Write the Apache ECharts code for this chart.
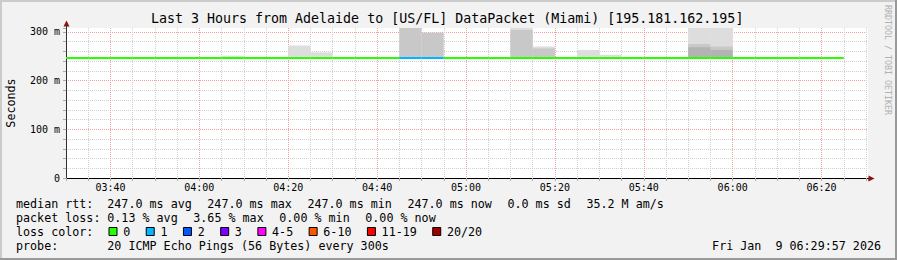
<!DOCTYPE html>
<html><head><meta charset="utf-8">
<script src="https://cdn.jsdelivr.net/npm/echarts@6/dist/echarts.min.js"></script>
<style>html,body{margin:0;padding:0;background:#f2f2f2}#c{width:897px;height:260px}</style>
</head><body><div id="c"></div>
<script>
// ---------------- data ----------------
const stepTimes = ["03:30","03:35","03:40","03:45","03:50","03:55","04:00","04:05","04:10","04:15",
  "04:20","04:25","04:30","04:35","04:40","04:45","04:50","04:55","05:00","05:05",
  "05:10","05:15","05:20","05:25","05:30","05:35","05:40","05:45","05:50","05:55",
  "06:00","06:05","06:10","06:15","06:20"];
const medianRtt = [247,247,247,247,247,247,247,247,247,247,
  247,247,247,247,247,247,247,247,247,247,
  247,247,247,247,247,247,247,247,247,247,
  247,247,247,247,247];
const lossPings = [0,0,0,0,0,0,0,0,0,0,
  0,0,0,0,0,1,1,0,0,0,
  0,0,0,0,0,0,0,0,0,0,
  0,0,0,0,0];
const smokeOuter = [null,null,null,null,null,null,null,251,null,null,
  272,258,null,null,null,null,null,null,null,null,
  312,270,null,263,253,null,null,null,312,312,
  null,null,null,null,null];
const smokeMid = [null,null,null,null,null,null,null,null,null,null,
  null,null,null,null,null,312,298.5,null,null,null,
  304,266,null,null,null,null,null,null,275,270,
  null,null,null,null,null];
const smokeInner = [null,null,null,null,null,null,null,null,null,null,
  null,null,null,null,null,null,null,null,null,null,
  null,null,null,null,null,null,null,null,268.5,263,
  null,null,null,null,null];
const xTickLabels = ["03:40","04:00","04:20","04:40","05:00","05:20","05:40","06:00","06:20"];
const yTickLabels = ["0","100 m","200 m","300 m"];
const lossBuckets = ["0","1","2","3","4-5","6-10","11-19","20/20"];
const titleText = "Last 3 Hours from Adelaide to [US/FL] DataPacket (Miami) [195.181.162.195]";
const yAxisTitle = "Seconds";
const watermark = "RRDTOOL / TOBI OETIKER";
const rttLabel = "median rtt:";
const rttStats = ["247.0 ms avg","247.0 ms max","247.0 ms min","247.0 ms now","0.0 ms sd","35.2 M am/s"];
const lossLabel = "packet loss:";
const lossStats = ["0.13 % avg","3.65 % max","0.00 % min","0.00 % now"];
const lossColorLabel = "loss color:";
const probeLabel = "probe:";
const probeText = "20 ICMP Echo Pings (56 Bytes) every 300s";
const dateText = "Fri Jan  9 06:29:57 2026";

// ---------------- styles / layout ----------------
const LOSS_COLORS = ['#26ff00','#00b8ff','#0059ff','#7e00ff','#ff00ff','#ff5500','#ff0000','#a10000'];
const SMOKE_COLORS = ['#dddddd','#c8c8c8','#b3b3b3'];
const MONO = '"DejaVu Sans Mono", "Liberation Mono", monospace';
const MINOR = '#d0d0d0', MAJOR = '#f2a0a0';
const STEP_MIN = 5;
const CW = 7.02, GAP = 15.8;

function toMin(s){ const p = s.split(':'); return (+p[0])*60 + (+p[1]); }
function fmtMin(v){ const h = Math.floor(v/60), m = Math.round(v%60); return String(h).padStart(2,'0')+':'+String(m).padStart(2,'0'); }
function lossBucket(n){ if(n<=3) return n; if(n<=5) return 4; if(n<=10) return 5; if(n<=19) return 6; return 7; }

function layerData(arr){
  const out = [];
  arr.forEach((v,i)=>{ if(v!=null) out.push([toMin(stepTimes[i]), v, medianRtt[i]]); });
  return out;
}
function smokeRender(color){
  return function(params, api){
    const t = api.value(0), top = api.value(1), base = api.value(2);
    const a = api.coord([t, top]), b = api.coord([t + STEP_MIN, base]);
    const cs = params.coordSys;
    const r = echarts.graphic.clipRectByRect(
      {x:a[0], y:a[1], width:b[0]-a[0], height:b[1]-a[1]},
      {x:cs.x, y:cs.y, width:cs.width, height:cs.height});
    return r ? {type:'rect', shape:r, style:{fill:color}} : null;
  };
}
const medianData = stepTimes.map((t,i)=>[toMin(t), medianRtt[i], lossBucket(lossPings[i])]);

// ---------------- graphics (text, frame) ----------------
const g = [];
g.push({type:'rect', shape:{x:0,y:0,width:897,height:2}, style:{fill:'#cbcbcb'}, silent:true});
g.push({type:'rect', shape:{x:0,y:0,width:2,height:260}, style:{fill:'#cbcbcb'}, silent:true});
g.push({type:'rect', shape:{x:0,y:258,width:897,height:2}, style:{fill:'#999999'}, silent:true});
g.push({type:'rect', shape:{x:895,y:0,width:2,height:260}, style:{fill:'#999999'}, silent:true});
function txt(text, x, y, size, opts){
  return Object.assign({type:'text', silent:true, z:10,
    style:{text:text.replace(/  /g,' \u00a0'), x:x, y:y, font: size+'px '+MONO, fill:'#000', align:'left', verticalAlign:'middle'}}, opts||{});
}
g.push(txt(titleText, 447.2, 18.3, 13.3, {style:{text:titleText, x:447.2, y:18.3, font:'13.3px '+MONO, fill:'#000', align:'center', verticalAlign:'middle'}}));
g.push({type:'text', silent:true, x:11, y:103, rotation:Math.PI/2,
  style:{text:yAxisTitle, x:0, y:0, font:'11.7px '+MONO, fill:'#000', align:'center', verticalAlign:'middle'}});
g.push({type:'text', silent:true, x:888, y:60, rotation:-Math.PI/2,
  style:{text:watermark, x:0, y:0, font:'8.3px '+MONO, fill:'#b0b0b0', align:'center', verticalAlign:'middle'}});
// axis arrows
g.push({type:'polygon', silent:true, z:10, shape:{points:[[66.5,20.5],[63.5,26.5],[69.5,26.5]]}, style:{fill:'#8b1010'}});
g.push({type:'line', silent:true, z:10, shape:{x1:66.5,y1:26,x2:66.5,y2:28}, style:{stroke:'#333',lineWidth:1}});
g.push({type:'line', silent:true, z:10, shape:{x1:868,y1:178.5,x2:869,y2:178.5}, style:{stroke:'#000',lineWidth:1}});
g.push({type:'polygon', silent:true, z:10, shape:{points:[[874.5,178.5],[868.5,175.5],[868.5,181.5]]}, style:{fill:'#8b1010'}});

const ROWS = [204.1, 218.1, 232.1, 246.1];
const X0 = 16, XV = 107.3;
g.push(txt(rttLabel, X0, ROWS[0], 11.7));
let x = XV;
rttStats.forEach(s=>{ g.push(txt(s, x, ROWS[0], 11.7)); x += s.length*CW + GAP; });
g.push(txt(lossLabel, X0, ROWS[1], 11.7));
x = XV;
lossStats.forEach(s=>{ g.push(txt(s, x, ROWS[1], 11.7)); x += s.length*CW + GAP; });
g.push(txt(lossColorLabel, X0, ROWS[2], 11.7));
x = 108.5;
lossBuckets.forEach((s,i)=>{
  g.push({type:'rect', silent:true, z:10, shape:{x:x+0.5, y:227.5, width:8, height:8}, style:{fill:LOSS_COLORS[i], stroke:'#000', lineWidth:1}});
  g.push(txt(s, x+14.7, ROWS[2], 11.7));
  x += 14.7 + s.length*CW + 15.5;
});
g.push(txt(probeLabel, X0, ROWS[3], 11.7));
g.push(txt(probeText, XV, ROWS[3], 11.7));
g.push({type:'text', silent:true, z:10, style:{text:dateText.replace(/  /g,' \u00a0'), x:881, y:ROWS[3], font:'11.7px '+MONO, fill:'#000', align:'right', verticalAlign:'middle'}});

// ---------------- chart ----------------
const chart = echarts.init(document.getElementById('c'), null, {renderer:'svg', width:897, height:260});
chart.setOption({
  backgroundColor:'#f2f2f2',
  animation:false,
  grid:{left:66, top:28, width:802, height:150, show:true, backgroundColor:'#ffffff', borderWidth:0, containLabel:false},
  xAxis:{type:'value', min:toMin(stepTimes[0]), max:390.45, interval:STEP_MIN,
    axisLine:{show:true, onZero:false, lineStyle:{color:'#000', width:1}},
    axisTick:{show:true, length:3, lineStyle:{color:'#aaaaaa'}},
    axisLabel:{margin:4, fontFamily:MONO, fontSize:10, color:'#000',
      formatter:function(v){ const r=Math.round(v); if(Math.abs(v-r)>1e-6||r%20!==0) return ''; const s=fmtMin(r); return xTickLabels.indexOf(s)>=0?s:''; }},
    splitLine:{show:true, showMaxLine:false, lineStyle:{color:[MINOR,MINOR,MAJOR,MINOR], type:[1,1], width:1}}
  },
  yAxis:{type:'value', min:0, max:308, interval:20,
    axisLine:{show:true, lineStyle:{color:'#333', width:1}},
    axisTick:{show:true, length:3, lineStyle:{color:'#aaaaaa'}},
    axisLabel:{margin:6, fontFamily:MONO, fontSize:10, color:'#000',
      formatter:function(v){ const r=Math.round(v); if(Math.abs(v-r)>1e-6||r%100!==0) return ''; return yTickLabels[r/100]||''; }},
    splitLine:{show:true, showMaxLine:false, lineStyle:{color:[MAJOR,MINOR,MINOR,MINOR,MINOR], type:[1,1], width:1}}
  },
  series:[
    {type:'custom', name:'smoke outer', z:2, silent:true, data:layerData(smokeOuter), renderItem:smokeRender(SMOKE_COLORS[0])},
    {type:'custom', name:'smoke mid', z:3, silent:true, data:layerData(smokeMid), renderItem:smokeRender(SMOKE_COLORS[1])},
    {type:'custom', name:'smoke inner', z:4, silent:true, data:layerData(smokeInner), renderItem:smokeRender(SMOKE_COLORS[2])},
    {type:'custom', name:'median rtt', z:5, silent:true, data:medianData,
      renderItem:function(params, api){
        const t=api.value(0), v=api.value(1), li=api.value(2);
        const a=api.coord([t,v]), b=api.coord([t+STEP_MIN,v]);
        return {type:'rect', shape:{x:a[0], y:Math.round(a[1])-1, width:b[0]-a[0], height:2}, style:{fill:LOSS_COLORS[li]}};
      }}
  ],
  graphic:g
});
</script></body></html>
